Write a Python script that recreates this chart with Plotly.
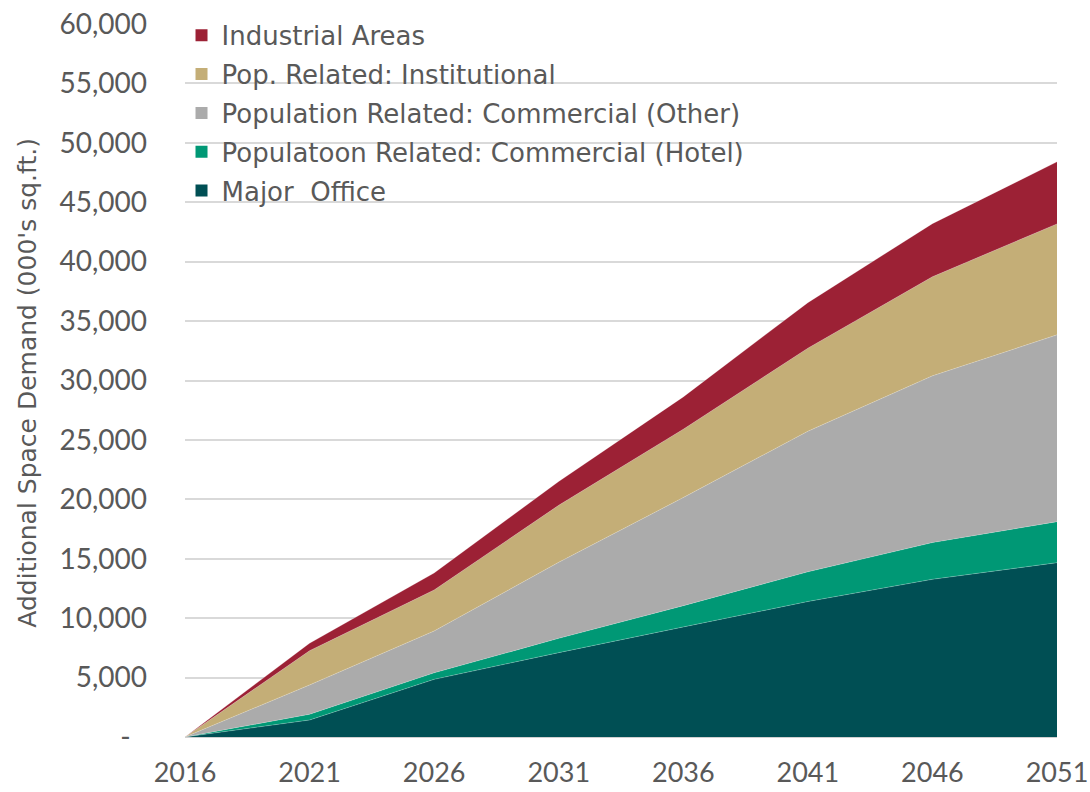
import plotly.graph_objects as go

# Years on the horizontal axis
years = [2016, 2021, 2026, 2031, 2036, 2041, 2046, 2051]

# Additional space demand by category (000's sq.ft.), stacked bottom to top
major_office = [0, 1430, 4850, 7100, 9260, 11400, 13270, 14670]
commercial_hotel = [0, 480, 550, 1200, 1790, 2500, 3090, 3450]
commercial_other = [0, 2470, 3520, 6400, 9100, 11830, 14030, 15720]
institutional = [0, 2880, 3450, 4800, 5750, 6990, 8340, 9340]
industrial = [0, 630, 1430, 2000, 2720, 3830, 4470, 5220]

# Axis ticks (zero shown accounting-style as a dash, padded on the right)
y_ticks = [0, 5000, 10000, 15000, 20000, 25000, 30000, 35000, 40000, 45000, 50000, 55000, 60000]
y_tick_text = ["-<span style='color:rgba(0,0,0,0)'>0</span>"] + [f"{v:,}" for v in y_ticks[1:]]

series = [
    ("Major  Office", major_office, "#004F54"),
    ("Populatoon Related: Commercial (Hotel)", commercial_hotel, "#009875"),
    ("Population Related: Commercial (Other)", commercial_other, "#ABABAB"),
    ("Pop. Related: Institutional", institutional, "#C4AE77"),
    ("Industrial Areas", industrial, "#9C2135"),
]

TICK_FONT = "Lato"
LABEL_FONT = "DejaVu Sans"
TEXT = "#595959"

fig = go.Figure()
for name, vals, color in series:
    fig.add_trace(go.Scatter(
        x=years, y=vals, name=name, mode="lines",
        stackgroup="demand", fillcolor=color,
        line=dict(width=0.6, color="rgba(255,255,255,0.35)"),
        showlegend=False, hoverinfo="x+y+name",
    ))
# Square legend keys (top layer listed first), one group each so rows can be spaced
for i, (name, vals, color) in enumerate(reversed(series)):
    fig.add_trace(go.Scatter(
        x=[None], y=[None], name=name, mode="markers",
        marker=dict(symbol="square", size=15, color=color),
        legendgroup=f"g{i}", showlegend=True,
    ))

fig.update_layout(
    width=1090, height=792,
    margin=dict(l=185, r=33, t=22, b=55),
    paper_bgcolor="white", plot_bgcolor="white",
    font=dict(family=TICK_FONT, color=TEXT, size=25),
    showlegend=True,
    legend=dict(
        x=-0.004, y=1.017, xanchor="left", yanchor="top",
        traceorder="grouped", bgcolor="rgba(0,0,0,0)",
        font=dict(family=LABEL_FONT, size=26, color=TEXT),
        itemsizing="constant", tracegroupgap=2,
    ),
    xaxis=dict(
        range=[2016, 2051], tickvals=years, ticktext=[str(y) for y in years],
        showgrid=False, zeroline=False, showline=False, automargin=False,
        ticks="", ticklabelstandoff=17, tickfont=dict(size=27, color=TEXT),
    ),
    yaxis=dict(
        range=[0, 60000], tickvals=y_ticks, ticktext=y_tick_text,
        showgrid=True, gridcolor="#D9D9D9", gridwidth=1.5,
        zeroline=True, zerolinecolor="#D0D0D0", zerolinewidth=1.5,
        showline=False, ticks="", ticklabelstandoff=37, automargin=False,
        tickfont=dict(size=28, color=TEXT),
    ),
    annotations=[dict(
        text="Additional Space Demand (000's sq.ft.)",
        xref="paper", yref="paper", x=-0.18, y=0.497,
        xanchor="center", yanchor="middle", textangle=-90, showarrow=False,
        font=dict(family=LABEL_FONT, size=25, color=TEXT),
    )],
)

fig.write_html("out.html")
